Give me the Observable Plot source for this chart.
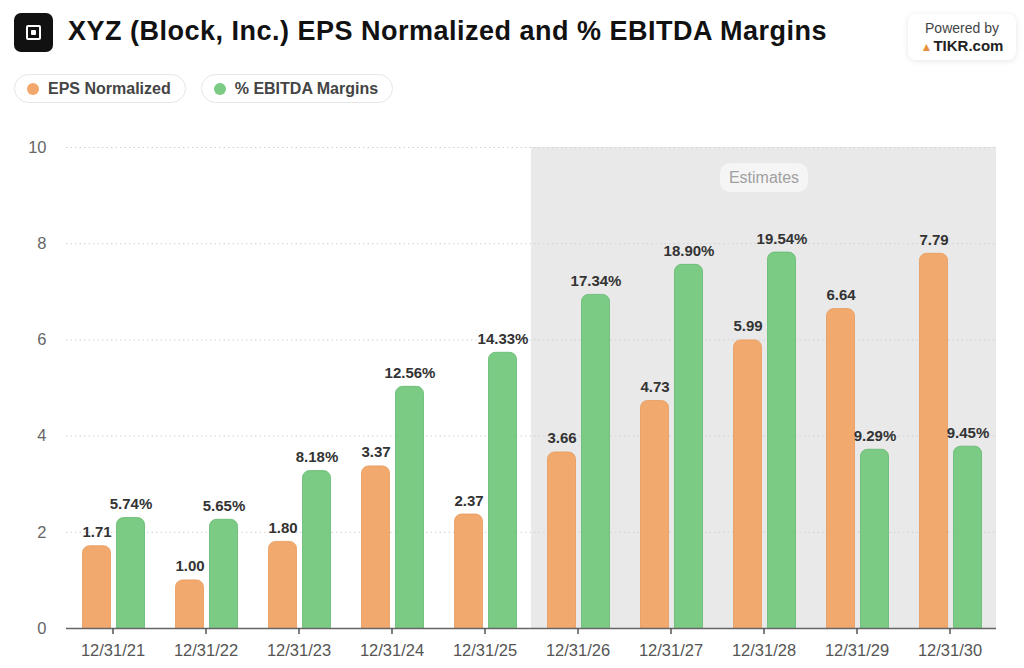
<!DOCTYPE html>
<html>
<head>
<meta charset="utf-8">
<script src="https://cdn.jsdelivr.net/npm/d3@7"></script>
<script src="https://cdn.jsdelivr.net/npm/@observablehq/plot@0.6"></script>
<style>
  html, body { margin: 0; padding: 0; background: #fff; width: 1024px; height: 668px; overflow: hidden; font-family: "Liberation Sans", Arial, sans-serif; }
  #root { position: relative; width: 1024px; height: 668px; }
  .logo { position: absolute; left: 14px; top: 13px; width: 39px; height: 39px; background: #111; border-radius: 7px; }
  .logo div { position: absolute; left: 12px; top: 12px; width: 11px; height: 11px; border: 2.5px solid #fff; border-radius: 2px; }
  .logo div::after { content: ""; position: absolute; left: 3px; top: 3px; width: 5px; height: 5px; background: #fff; border-radius: 1px; }
  .title { position: absolute; left: 68px; top: 16px; font-size: 27px; font-weight: 700; color: #111; white-space: nowrap; letter-spacing: 0.5px; }
  .tikr { position: absolute; left: 908px; top: 14px; width: 108px; height: 46px; background: #fff; border-radius: 8px; box-shadow: 0 1px 6px rgba(0,0,0,0.10); text-align: center; }
  .tikr .p { font-size: 14px; color: #444; margin-top: 6px; line-height: 17px; }
  .tikr .t { font-size: 15px; color: #222; font-weight: 700; line-height: 18px; }
  .tikr .t span { color: #e8913c; font-size: 12px; margin-right: 1px; }
  .legend { position: absolute; top: 74px; left: 14px; display: flex; gap: 15px; }
  .pill { height: 29px; border: 1.5px solid #e6e6e6; border-radius: 15px; display: flex; align-items: center; padding: 0 14px 0 12px; font-size: 16px; font-weight: 700; color: #444; box-sizing: border-box; }
  .dot { width: 12px; height: 12px; border-radius: 50%; margin-right: 9px; }
  #chart { position: absolute; left: 0; top: 120px; }
  .est { position: absolute; left: 720px; top: 163px; width: 88px; height: 29px; border-radius: 10px; background: rgba(255,255,255,0.55); color: #a0a0a0; font-size: 16px; display: flex; align-items: center; justify-content: center; }
</style>
</head>
<body>
<div id="root">
  <div class="logo"><div></div></div>
  <div class="title">XYZ (Block, Inc.) EPS Normalized and % EBITDA Margins</div>
  <div class="tikr"><div class="p">Powered by</div><div class="t"><span>▲</span>TIKR.com</div></div>
  <div class="legend">
    <div class="pill"><span class="dot" style="background:#f2a86c"></span>EPS Normalized</div>
    <div class="pill"><span class="dot" style="background:#7bcb84"></span>% EBITDA Margins</div>
  </div>
  <div id="chart"></div>
  <div class="est">Estimates</div>
</div>
<script>
const dates = ["12/31/21","12/31/22","12/31/23","12/31/24","12/31/25","12/31/26","12/31/27","12/31/28","12/31/29","12/31/30"];
const eps = [1.71, 1.00, 1.80, 3.37, 2.37, 3.66, 4.73, 5.99, 6.64, 7.79];
const ebitdaMargin = [5.74, 5.65, 8.18, 12.56, 14.33, 17.34, 18.90, 19.54, 9.29, 9.45];
const estimateDates = ["12/31/26","12/31/27","12/31/28","12/31/29","12/31/30"];
const yTicks = [0, 2, 4, 6, 8, 10];
const yDomain = [0, 10];
const marginAxisDomain = [0, 25]; // hidden secondary axis for % EBITDA Margins

const toPrimary = v => v / marginAxisDomain[1] * yDomain[1];

const epsData = dates.map((d, i) => ({date: d, value: eps[i], label: eps[i].toFixed(2)}));
const marginData = dates.map((d, i) => ({date: d, value: toPrimary(ebitdaMargin[i]), label: ebitdaMargin[i].toFixed(2) + "%"}));
const estData = estimateDates.map(d => ({date: d}));

const font = "'Liberation Sans', Arial, sans-serif";

const chart = Plot.plot({
  width: 1024,
  height: 548,
  marginTop: 27,
  marginBottom: 40,
  marginLeft: 66,
  marginRight: 28,
  style: {fontFamily: font, background: "transparent"},
  x: {domain: dates, padding: 0, label: null, axis: null},
  y: {domain: yDomain, label: null, axis: null},
  marks: [
    Plot.barY(estData, {x: "date", y1: yDomain[0], y2: yDomain[1], fill: "#e9e9e9", inset: 0}),
    Plot.ruleY(yTicks.filter(t => t > 0), {stroke: "#d0d0d0", strokeDasharray: "1.5,3", strokeWidth: 1}),
    Plot.barY(epsData, {x: "date", y: "value", fill: "#f2a96e", stroke: "#e69a5c", strokeWidth: 0.8, insetLeft: 16.5, insetRight: 48.5, insetBottom: -10, rx: 7, ry: 7, clip: true}),
    Plot.barY(marginData, {x: "date", y: "value", fill: "#7bcb85", stroke: "#63b86e", strokeWidth: 0.8, insetLeft: 50.5, insetRight: 14.5, insetBottom: -10, rx: 7, ry: 7, clip: true}),
    Plot.ruleY([0], {stroke: "#666", strokeWidth: 1.6}),
    Plot.axisX({tickSize: 6, tickPadding: 10, fontSize: 16.5, fill: "#555", stroke: "#555", strokeWidth: 1.5, label: null}),
    Plot.axisY({ticks: yTicks, tickSize: 0, tickPadding: 20, fontSize: 16.5, fill: "#666", label: null, anchor: "left"}),
    Plot.text(epsData, {x: "date", y: "value", text: "label", dx: -16, dy: -9, lineAnchor: "bottom", fontSize: 15, fontWeight: 700, fill: "#333"}),
    Plot.text(marginData, {x: "date", y: "value", text: "label", dx: 18, dy: -9, lineAnchor: "bottom", fontSize: 15, fontWeight: 700, fill: "#333"})
  ]
});
document.getElementById("chart").appendChild(chart);
</script>
</body>
</html>
